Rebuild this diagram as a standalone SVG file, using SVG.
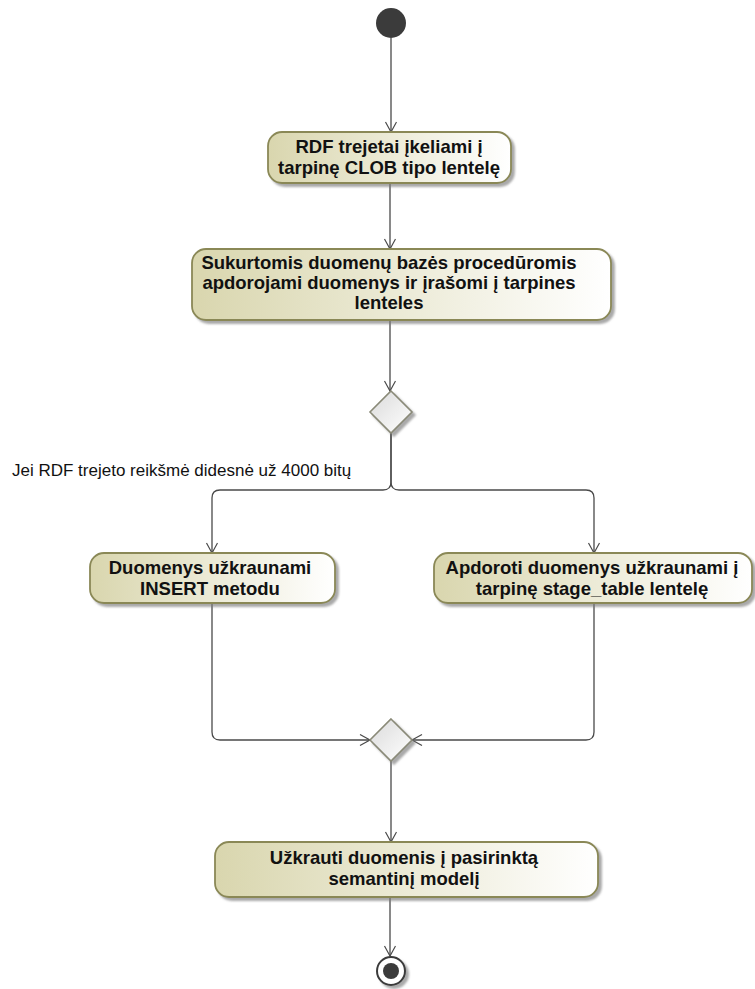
<svg xmlns="http://www.w3.org/2000/svg" width="755" height="989" viewBox="0 0 755 989">
  <defs>
    <linearGradient id="actFill" x1="0" y1="0" x2="1" y2="0">
      <stop offset="0" stop-color="#d9d6ae"/>
      <stop offset="1" stop-color="#ffffff"/>
    </linearGradient>
    <linearGradient id="decFill" x1="0" y1="0" x2="1" y2="1">
      <stop offset="0" stop-color="#dadada"/>
      <stop offset="1" stop-color="#ffffff"/>
    </linearGradient>
    <filter id="shadow" x="-10%" y="-10%" width="130%" height="140%">
      <feDropShadow dx="3" dy="3" stdDeviation="1.2" flood-color="#7a7a7a" flood-opacity="0.65"/>
    </filter>
    <marker id="arrow" markerWidth="14" markerHeight="14" refX="11" refY="6" orient="auto" markerUnits="userSpaceOnUse">
      <path d="M1,0.5 L11,6 L1,11.5" fill="none" stroke="#4a4a4a" stroke-width="1.2"/>
    </marker>
    <style>
      .act { fill: url(#actFill); stroke: #8a8857; stroke-width: 1.8; filter: url(#shadow); }
      .dec { fill: url(#decFill); stroke: #8a8a78; stroke-width: 1.6; filter: url(#shadow); }
      .lbl { font-family: "Liberation Sans", Arial, sans-serif; font-size: 18.5px; font-weight: bold; fill: #111; text-anchor: middle; }
      .guard { font-family: "Liberation Sans", Arial, sans-serif; font-size: 17px; fill: #111; }
      .flow { fill: none; stroke: #4a4a4a; stroke-width: 1.3; marker-end: url(#arrow); }
    </style>
  </defs>

  <!-- control flows -->
  <g id="connectors">
    <path class="flow" d="M391,38 V132"/>
    <path class="flow" d="M390,183 V249"/>
    <path class="flow" d="M390,320 V391"/>
    <path class="flow" d="M391,433 V482 Q391,490 383,490 H220 Q212,490 212,498 V553"/>
    <path class="flow" d="M391,433 V482 Q391,490 399,490 H586 Q594,490 594,498 V553"/>
    <path class="flow" d="M212,603 V732 Q212,740 220,740 H370"/>
    <path class="flow" d="M594,603 V732 Q594,740 586,740 H412"/>
    <path class="flow" d="M391,761 V842"/>
    <path class="flow" d="M390,897 V956"/>
    <text class="guard" x="12" y="476">Jei RDF trejeto reikšmė didesnė už 4000 bitų</text>
  </g>

  <g id="start">
    <circle cx="391" cy="23" r="15" fill="#3b3b3b"/>
  </g>

  <g id="load-clob">
    <rect class="act" x="268" y="132" width="243" height="51" rx="14"/>
    <text class="lbl" x="389" y="153">RDF trejetai įkeliami į</text>
    <text class="lbl" x="389" y="174">tarpinę CLOB tipo lentelę</text>
  </g>

  <g id="process-procedures">
    <rect class="act" x="192" y="249" width="419" height="71" rx="14"/>
    <text class="lbl" x="389" y="269">Sukurtomis duomenų bazės procedūromis</text>
    <text class="lbl" x="389" y="289">apdorojami duomenys ir įrašomi į tarpines</text>
    <text class="lbl" x="389" y="309">lenteles</text>
  </g>

  <g id="decision">
    <polygon class="dec" points="391,391 412,412 391,433 370,412"/>
  </g>

  <g id="insert-load">
    <rect class="act" x="90" y="553" width="245" height="50" rx="14"/>
    <text class="lbl" x="210" y="574">Duomenys užkraunami</text>
    <text class="lbl" x="210" y="595">INSERT metodu</text>
  </g>

  <g id="stage-load">
    <rect class="act" x="434" y="553" width="318" height="50" rx="14"/>
    <text class="lbl" x="592" y="574">Apdoroti duomenys užkraunami į</text>
    <text class="lbl" x="592" y="595">tarpinę stage_table lentelę</text>
  </g>

  <g id="merge">
    <polygon class="dec" points="391,719 412,740 391,761 370,740"/>
  </g>

  <g id="load-model">
    <rect class="act" x="215" y="842" width="383" height="55" rx="14"/>
    <text class="lbl" x="404" y="864">Užkrauti duomenis į pasirinktą</text>
    <text class="lbl" x="404" y="885">semantinį modelį</text>
  </g>

  <g id="end">
    <circle cx="391" cy="971" r="14" fill="#ffffff" stroke="#3b3b3b" stroke-width="2" filter="url(#shadow)"/>
    <circle cx="391" cy="971" r="8" fill="#3b3b3b"/>
  </g>
</svg>
